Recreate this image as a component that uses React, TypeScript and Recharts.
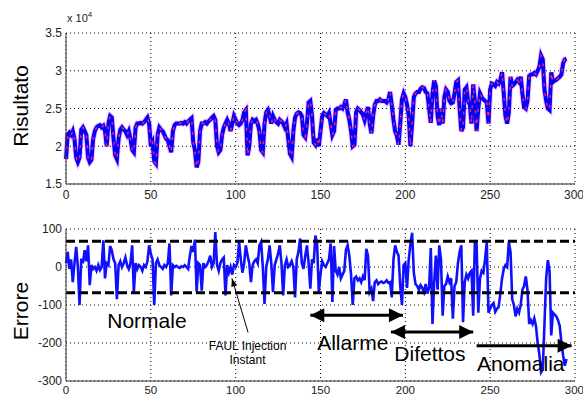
import { LineChart, Line, XAxis, YAxis, CartesianGrid, ReferenceLine, ReferenceDot } from 'recharts';

// Risultato (x 10^4), one value per step 0..295
const risultato = [
  1.83, 2.15, 2.18, 2.15, 2.2, 2.1, 1.85, 1.79, 1.85, 2.22,
  2.25, 2.2, 2.15, 1.85, 1.79, 1.82, 2.1, 2.2, 2.25, 2.27,
  2.28, 2.25, 2.27, 2.2, 2.0, 2.3, 2.4, 2.38, 2.1, 1.88,
  1.83, 2.1, 2.22, 2.25, 2.22, 2.2, 2.15, 2.2, 2.1, 1.95,
  1.92, 2.25, 2.3, 2.3, 2.31, 2.3, 2.32, 2.35, 2.38, 2.3,
  2.0, 2.05, 1.8, 1.77, 2.15, 2.25, 2.22, 2.2, 2.15, 2.1,
  2.08, 2.0, 1.92, 2.2, 2.28, 2.3, 2.3, 2.3, 2.31, 2.3,
  2.32, 2.3, 2.33, 2.35, 2.37, 2.05, 1.95, 1.72, 1.8, 2.2,
  2.3, 2.3, 2.32, 2.3, 2.33, 2.35, 2.38, 2.4, 2.35, 2.0,
  1.92, 1.95, 2.15, 2.25, 2.3, 2.35, 2.3, 2.2, 2.3, 2.4,
  2.35, 2.3, 2.28, 2.3, 2.35, 2.45, 2.48, 1.88, 2.0, 2.3,
  2.35, 2.33, 2.35, 2.3, 2.2, 1.95, 1.92, 2.3, 2.45, 2.48,
  2.4, 2.3, 2.4, 2.35, 2.32, 2.3, 2.35, 2.33, 2.3, 2.25,
  2.3, 2.1, 1.9, 1.86, 2.2, 2.38, 2.43, 2.45, 2.44, 2.4,
  2.15, 2.12, 2.3, 2.58, 2.6, 2.4, 2.05, 2.02, 2.1, 2.0,
  2.2, 2.4, 2.44, 2.42, 2.4, 2.44, 2.3, 2.15, 2.2, 2.48,
  2.5, 2.5, 2.52, 2.5, 2.55, 2.62, 2.45, 2.35, 2.2, 2.0,
  2.02, 2.45, 2.5, 2.48, 2.45, 2.42, 2.35, 2.45, 2.52, 2.3,
  2.17, 2.4, 2.55, 2.6, 2.6, 2.62, 2.6, 2.6, 2.6, 2.58,
  2.62, 2.72, 2.55, 2.35, 2.2, 2.14, 2.02, 2.3, 2.62, 2.7,
  2.65, 2.55, 2.4, 2.0, 2.3, 2.65, 2.7, 2.72, 2.72, 2.76,
  2.78, 2.77, 2.72, 2.7, 2.5, 2.31, 2.7, 2.87, 2.8, 2.4,
  2.28, 2.5, 2.3, 2.65, 2.75, 2.72, 2.6, 2.57, 2.58, 2.7,
  2.85, 2.87, 2.5, 2.2, 2.25, 2.75, 2.78, 2.6, 2.55, 2.3,
  2.82, 2.6, 2.2, 2.5, 2.7, 2.65, 2.62, 2.6, 2.58, 2.3,
  2.75, 2.83, 2.82, 2.8, 2.85, 2.83, 2.88, 2.98, 2.7, 2.4,
  2.3, 2.45, 2.92, 2.8, 2.82, 2.85, 2.88, 2.85, 2.92, 2.7,
  2.52, 2.5, 2.6, 2.93, 2.95, 2.95, 2.97, 2.95, 3.0, 3.05,
  3.2, 3.15, 2.75, 2.6, 2.5, 2.48, 2.98, 2.85, 2.87, 2.88,
  2.9, 2.92, 2.95, 3.1, 3.15, 3.16,
];

// Errore, one value per step 0..295
const errore = [
  10, 40, -5, 20, -40, 10, 53, 0, -100, 22,
  10, 44, 15, 57, -48, 5, -5, 0, -10, 5,
  -8, 0, 70, -30, 10, 5, 55, 44, 20, 10,
  -85, 5, 15, 0, 10, 25, 5, -5, 10, 57,
  -66, 10, -5, 5, 0, -10, 5, 0, 15, 57,
  35, 20, -100, 10, 20, 5, 0, -5, 5, 0,
  10, 62, -75, 5, 0, 3, 0, -3, 2, 0,
  5, 0, -5, 30, 55, 40, 72, -65, 10, 5,
  -62, 10, 0, 5, 15, 30, 0, 10, 92, 5,
  -10, 10, 20, 25, -75, 5, -15, 0, -20, 5,
  0, 10, 66, 20, -15, 10, 57, 30, 10, -40,
  5, 15, 20, 10, 57, 66, 0, -97, 0, 20,
  57, 10, -66, 5, 20, 35, 57, 10, -75, 5,
  20, 0, 5, 15, 0, -80, 20, 40, 75, 10,
  -5, 30, 57, 10, -57, 20, 10, 83, 60, -65,
  -20, 15, 5, 0, 10, 20, 62, -92, 55, -10,
  -20, 0, -30, -20, -10, 45, 57, 30, -20, -100,
  -30, -25, -35, -30, -40, -25, -35, 48, 30, -66,
  -57, -90, -40, -35, -45, -40, -38, -42, -40, -35,
  -42, -40, -80, 20, 57, 40, 30, -50, -100, 5,
  10, -55, 20, 60, 90, -15, -45, -50, -60, -48,
  -55, -66, -45, -70, -55, 50, -150, -40, 30, -60,
  57, 20, -128, -50, -45, -25, -40, -30, -136, -50,
  -40, 10, 40, 57, -145, -40, -20, -30, -15, -10,
  -128, 70, 60, -120, -30, -10, -15, 20, 66, -120,
  -110, -100, -95, -118, -110, -105, -70, -30, -5, 5,
  0, 66, 40, -85, -100, -130, -110, -120, -100, -60,
  -50, -25, -60, -150, -140, -150, -135, -155, -200, -230,
  -277, -270, -150, -30, 18, -10, -180, -120, -125, -130,
  -140, -155, -200, -233, -260, -242,
];

const xTicks = [0, 50, 100, 150, 200, 250, 300];
const topTicks = [1.5, 2, 2.5, 3, 3.5];
const bottomTicks = [-300, -200, -100, 0, 100];
const soglia = 68;

const topData = risultato.map((r, i) => ({ t: i, r }));
const bottomData = errore.map((e, i) => ({ t: i, e }));

const FONT = '"Liberation Sans", Arial, sans-serif';
const tickStyle = { fontSize: 12, fill: '#222', fontFamily: FONT };

const head = (x: number, y: number, fx: number, fy: number, len: number, half: number) => {
  // triangle pointing at (x,y), coming from (fx,fy)
  const dx = x - fx;
  const dy = y - fy;
  const d = Math.sqrt(dx * dx + dy * dy) || 1;
  const ux = dx / d;
  const uy = dy / d;
  const bx = x - ux * len;
  const by = y - uy * len;
  return `${x},${y} ${bx - uy * half},${by + ux * half} ${bx + uy * half},${by - ux * half}`;
};

const arrow = (both: boolean, width: number, len: number, half: number) => (p: any) => {
  const { x1, y1, x2, y2 } = p;
  return (
    <g>
      <line x1={x1} y1={y1} x2={x2} y2={y2} stroke="#000" strokeWidth={width} />
      <polygon points={head(x2, y2, x1, y1, len, half)} fill="#000" />
      {both && <polygon points={head(x1, y1, x2, y2, len, half)} fill="#000" />}
    </g>
  );
};

const textAt = (label: string, size: number) => (p: any) => (
  <text x={p.cx} y={p.cy} dy="0.35em" textAnchor="middle" fontSize={size} fontFamily={FONT} fill="#000">
    {label}
  </text>
);

const labels = [
  { text: 'Normale', x: 47.7, y: -141, size: 21 },
  { text: 'Allarme', x: 169, y: -199, size: 21 },
  { text: 'Difettos', x: 214.5, y: -229, size: 21 },
  { text: 'Anomalia', x: 268, y: -255, size: 21 },
  { text: 'FAUL Injection', x: 107, y: -207, size: 12 },
  { text: 'Instant', x: 107, y: -243, size: 12 },
];

const App = () => {
  return (
    <div style={{ position: 'absolute', left: 0, top: 0, width: 583, height: 398, background: '#fff', fontFamily: FONT, overflow: 'hidden' }}>
      <div style={{ position: 'absolute', left: 67, top: 10, fontSize: 11, color: '#222' }}>
        x 10<sup style={{ fontSize: 8 }}>4</sup>
      </div>
      <div style={{ position: 'absolute', left: 21, top: 106, transform: 'translate(-50%, -50%) rotate(-90deg)', fontSize: 21, whiteSpace: 'nowrap' }}>
        Risultato
      </div>
      <div style={{ position: 'absolute', left: 21, top: 311, transform: 'translate(-50%, -50%) rotate(-90deg)', fontSize: 21, whiteSpace: 'nowrap' }}>
        Errore
      </div>

      <div style={{ position: 'absolute', left: 0, top: 0 }}>
        <LineChart width={583} height={204} data={topData} margin={{ top: 33, right: 8, bottom: 0, left: 0 }}>
          <CartesianGrid stroke="#000" strokeDasharray="1 3" />
          <XAxis dataKey="t" type="number" domain={[0, 300]} ticks={xTicks} height={20} tickLine={false} tickSize={4} tickMargin={2} tick={tickStyle} stroke="#333" />
          <XAxis xAxisId="top" orientation="top" type="number" domain={[0, 300]} height={0} tick={false} tickLine={false} stroke="#333" />
          <YAxis type="number" domain={[1.5, 3.5]} ticks={topTicks} width={66} tickLine={false} tickSize={2} tickMargin={2} tick={tickStyle} stroke="#333" />
          <YAxis yAxisId="right" orientation="right" type="number" domain={[1.5, 3.5]} width={0} tick={false} tickLine={false} stroke="#333" />
          <Line type="linear" dataKey="r" stroke="#ff55ff" strokeOpacity={0.35} strokeWidth={6} dot={false} isAnimationActive={false} />
          <Line type="linear" dataKey="r" stroke="#0000ff" strokeWidth={4} dot={false} isAnimationActive={false} />
          <Line type="linear" dataKey="r" stroke="#ff2060" strokeWidth={1.5} strokeDasharray="3 7" dot={false} isAnimationActive={false} />
        </LineChart>
      </div>

      <div style={{ position: 'absolute', left: 0, top: 200 }}>
        <LineChart width={583} height={198} data={bottomData} margin={{ top: 29, right: 8, bottom: 0, left: 0 }}>
          <CartesianGrid stroke="#000" strokeDasharray="1 3" />
          <XAxis dataKey="t" type="number" domain={[0, 300]} ticks={xTicks} height={17} tickLine={false} tickSize={3} tickMargin={2} tick={{ ...tickStyle, fontSize: 11.5 }} stroke="#333" />
          <XAxis xAxisId="top" orientation="top" type="number" domain={[0, 300]} height={0} tick={false} tickLine={false} stroke="#333" />
          <YAxis type="number" domain={[-300, 100]} ticks={bottomTicks} width={66} tickLine={false} tickSize={2} tickMargin={2} tick={tickStyle} stroke="#333" />
          <YAxis yAxisId="right" orientation="right" type="number" domain={[-300, 100]} width={0} tick={false} tickLine={false} stroke="#333" />
          <Line type="linear" dataKey="e" stroke="#1010ff" strokeWidth={2.6} dot={false} isAnimationActive={false} />
          <ReferenceLine y={soglia} stroke="#000" strokeWidth={3} strokeDasharray="9 4" />
          <ReferenceLine y={-soglia} stroke="#000" strokeWidth={3} strokeDasharray="9 4" />
          <ReferenceLine segment={[{ x: 144, y: -127 }, { x: 198.6, y: -127 }]} shape={arrow(true, 3, 14, 7)} />
          <ReferenceLine segment={[{ x: 191.5, y: -171 }, { x: 240, y: -171 }]} shape={arrow(true, 3, 14, 7)} />
          <ReferenceLine segment={[{ x: 242, y: -207 }, { x: 298, y: -207 }]} shape={arrow(false, 3, 14, 7)} />
          <ReferenceLine segment={[{ x: 107.3, y: -172 }, { x: 97.8, y: -30 }]} shape={arrow(false, 1, 8, 3)} />
          {labels.map((l) => (
            <ReferenceDot key={l.text} x={l.x} y={l.y} r={0} shape={textAt(l.text, l.size)} />
          ))}
        </LineChart>
      </div>
    </div>
  );
};

export default App;
